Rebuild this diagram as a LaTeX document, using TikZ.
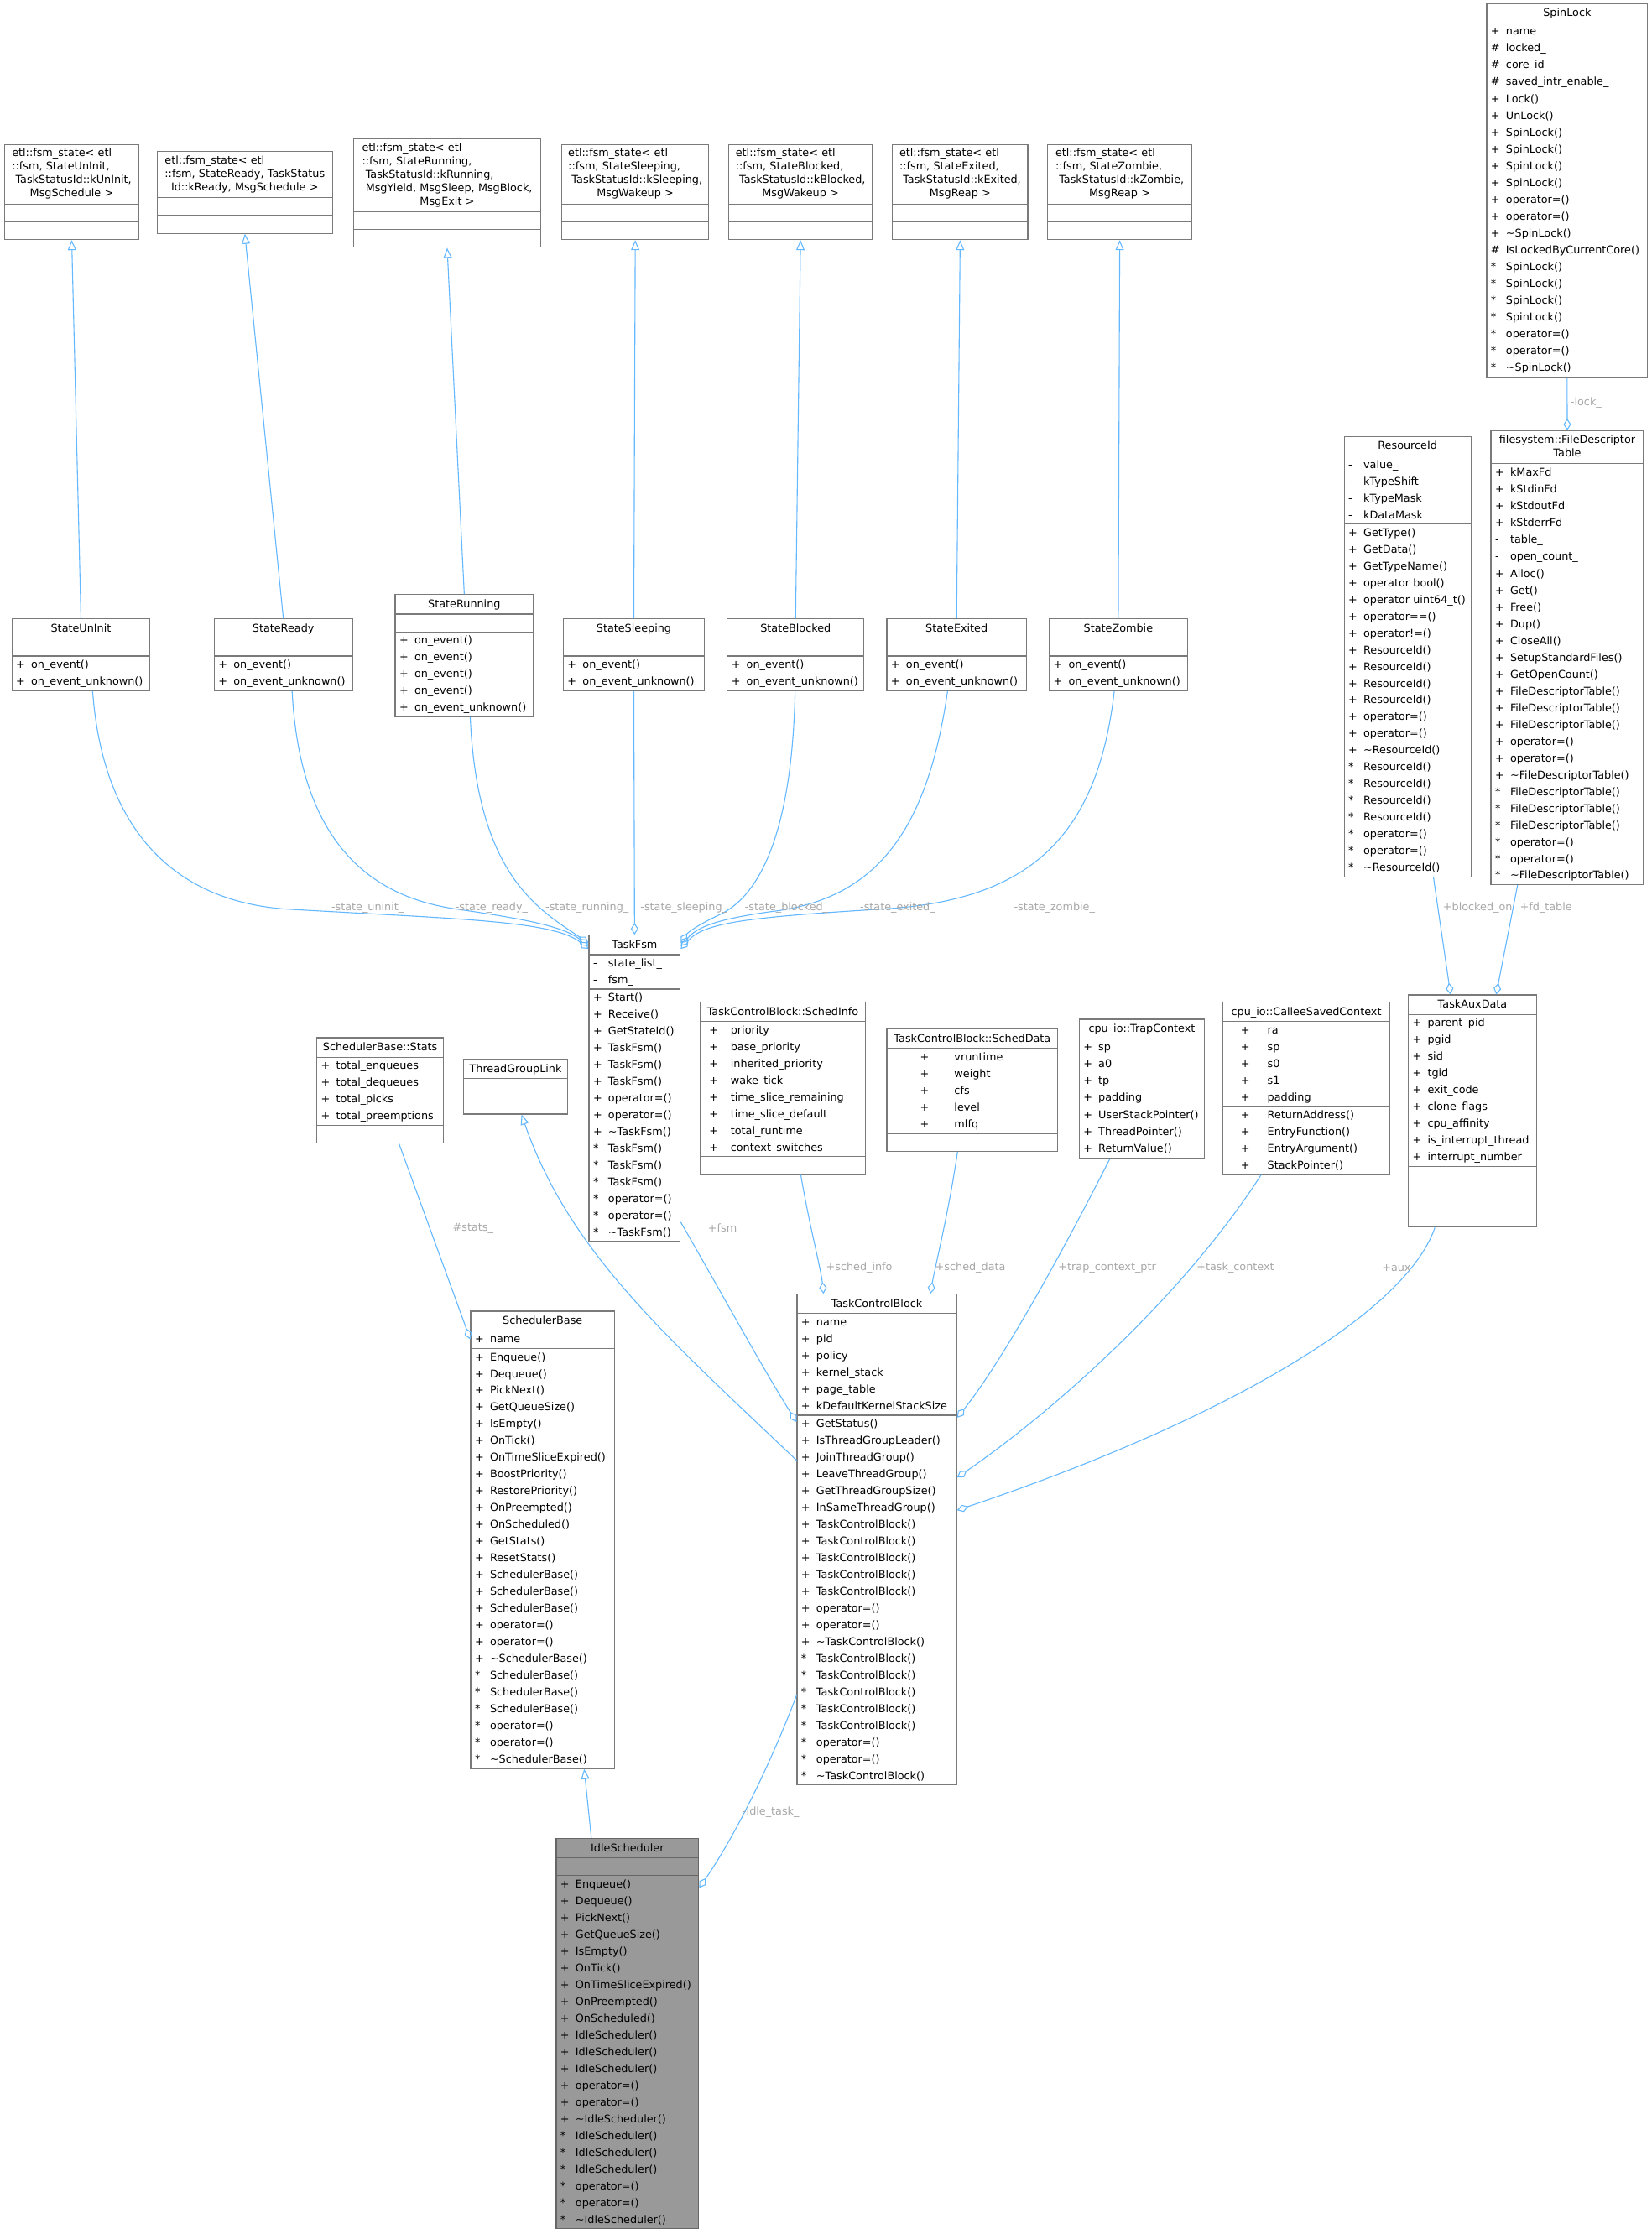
\documentclass[tikz,border=0pt]{standalone}
\usepackage{fontspec}
\setmainfont{DejaVu Sans}
\usetikzlibrary{positioning, shapes.multipart, arrows.meta, calc}

\definecolor{edgeblue}{HTML}{63B8FF}
\definecolor{boxline}{HTML}{7A7A7A}
\definecolor{labelgrey}{HTML}{A8A8A8}
\definecolor{idlefill}{HTML}{999999}
\definecolor{idleline}{HTML}{666666}

% one member row: visibility column, then the name
\newcommand\mem[3][10pt]{\mbox{\strut\makebox[#1][l]{\hspace{1pt}#2}#3}}
% class titles
\newcommand\ttl[1]{\noindent\makebox[\hsize]{\rule[-3.5pt]{0pt}{11pt}#1}}
\newcommand\ttlm[1]{\noindent\makebox[\hsize]{\fontsize{6.4}{8}\selectfont\begin{tabular}[b]{@{}l@{}}\rule{0pt}{7.1pt}#1\end{tabular}\rule[-3.9pt]{0pt}{0pt}}}
\newcommand\lastl[1]{\multicolumn{1}{@{}c@{}}{#1}}

\begin{document}
\begin{tikzpicture}[
    x=0.85pt, y=-0.85pt,
    cls/.style={
        rectangle split,
        rectangle split parts=3,
        draw=boxline,
        line width=0.6pt,
        fill=white,
        inner xsep=1.5pt,
        inner ysep=0pt,
        anchor=north west,
        align=left,
        font=\fontsize{6.4}{10}\selectfont
    },
    focus/.style={
        cls,
        fill=idlefill,
        draw=idleline
    },
    inherit/.style={
        -{Triangle[open,length=6pt,width=5pt]},
        draw=edgeblue,
        line width=0.55pt
    },
    member/.style={
        -{Diamond[open,length=7pt,width=4.5pt]},
        draw=edgeblue,
        line width=0.55pt
    },
    elabel/.style={
        font=\fontsize{6.4}{8}\selectfont,
        text=labelgrey,
        inner sep=0pt
    }
]

    \fill[white] (0,0) rectangle (1159,1568);
    \useasboundingbox (0,0) rectangle (1159,1568);

    % etl base classes
    \node[cls, text width=76.9pt] (baseUninit) at (3,101) {\ttlm{etl::fsm\_state< etl\\::fsm, StateUnInit,\\\ TaskStatusId::kUnInit,\\\lastl{MsgSchedule >}}\nodepart{two}\strut\nodepart{three}\strut};
    \node[cls, text width=101.5pt] (baseReady) at (110,106) {\ttlm{etl::fsm\_state< etl\\::fsm, StateReady, TaskStatus\\\lastl{Id::kReady, MsgSchedule >}}\nodepart{two}\strut\nodepart{three}\strut};
    \node[cls, text width=108.3pt] (baseRunning) at (248,97) {\ttlm{etl::fsm\_state< etl\\::fsm, StateRunning,\\\ TaskStatusId::kRunning,\\\ MsgYield, MsgSleep, MsgBlock,\\\lastl{MsgExit >}}\nodepart{two}\strut\nodepart{three}\strut};
    \node[cls, text width=84.5pt] (baseSleeping) at (394,101) {\ttlm{etl::fsm\_state< etl\\::fsm, StateSleeping,\\\ TaskStatusId::kSleeping,\\\lastl{MsgWakeup >}}\nodepart{two}\strut\nodepart{three}\strut};
    \node[cls, text width=82.8pt] (baseBlocked) at (511,101) {\ttlm{etl::fsm\_state< etl\\::fsm, StateBlocked,\\\ TaskStatusId::kBlocked,\\\lastl{MsgWakeup >}}\nodepart{two}\strut\nodepart{three}\strut};
    \node[cls, text width=77.7pt] (baseExited) at (626,101) {\ttlm{etl::fsm\_state< etl\\::fsm, StateExited,\\\ TaskStatusId::kExited,\\\lastl{MsgReap >}}\nodepart{two}\strut\nodepart{three}\strut};
    \node[cls, text width=82.8pt] (baseZombie) at (735,101) {\ttlm{etl::fsm\_state< etl\\::fsm, StateZombie,\\\ TaskStatusId::kZombie,\\\lastl{MsgReap >}}\nodepart{two}\strut\nodepart{three}\strut};

    % SpinLock
    \node[cls, text width=93pt] (spin) at (1043,2) {\ttl{SpinLock}
        \nodepart{two}\mem{+}{name}\\\mem{\#}{locked\_}\\\mem{\#}{core\_id\_}\\\mem{\#}{saved\_intr\_enable\_}
        \nodepart{three}\mem{+}{Lock()}\\\mem{+}{UnLock()}\\\mem{+}{SpinLock()}\\\mem{+}{SpinLock()}\\\mem{+}{SpinLock()}\\\mem{+}{SpinLock()}\\\mem{+}{operator=()}\\\mem{+}{operator=()}\\\mem{+}{\textasciitilde SpinLock()}\\\mem{\#}{IsLockedByCurrentCore()}\\\mem{*}{SpinLock()}\\\mem{*}{SpinLock()}\\\mem{*}{SpinLock()}\\\mem{*}{SpinLock()}\\\mem{*}{operator=()}\\\mem{*}{operator=()}\\\mem{*}{\textasciitilde SpinLock()}};

    % States
    \node[cls, text width=79.4pt] (uninit) at (8,434) {\ttl{StateUnInit}\nodepart{two}\strut
        \nodepart{three}\mem{+}{on\_event()}\\\mem{+}{on\_event\_unknown()}};
    \node[cls, text width=79.4pt] (ready) at (150,434) {\ttl{StateReady}\nodepart{two}\strut
        \nodepart{three}\mem{+}{on\_event()}\\\mem{+}{on\_event\_unknown()}};
    \node[cls, text width=79.4pt] (running) at (277,417) {\ttl{StateRunning}\nodepart{two}\strut
        \nodepart{three}\mem{+}{on\_event()}\\\mem{+}{on\_event()}\\\mem{+}{on\_event()}\\\mem{+}{on\_event()}\\\mem{+}{on\_event\_unknown()}};
    \node[cls, text width=81.1pt] (sleeping) at (395,434) {\ttl{StateSleeping}\nodepart{two}\strut
        \nodepart{three}\mem{+}{on\_event()}\\\mem{+}{on\_event\_unknown()}};
    \node[cls, text width=78.6pt] (blocked) at (510,434) {\ttl{StateBlocked}\nodepart{two}\strut
        \nodepart{three}\mem{+}{on\_event()}\\\mem{+}{on\_event\_unknown()}};
    \node[cls, text width=80.3pt] (exited) at (622,434) {\ttl{StateExited}\nodepart{two}\strut
        \nodepart{three}\mem{+}{on\_event()}\\\mem{+}{on\_event\_unknown()}};
    \node[cls, text width=79.4pt] (zombie) at (736,434) {\ttl{StateZombie}\nodepart{two}\strut
        \nodepart{three}\mem{+}{on\_event()}\\\mem{+}{on\_event\_unknown()}};

    % ResourceId and file table
    \node[cls, text width=72.6pt] (resid) at (943,306) {\ttl{ResourceId}
        \nodepart{two}\mem{-}{value\_}\\\mem{-}{kTypeShift}\\\mem{-}{kTypeMask}\\\mem{-}{kDataMask}
        \nodepart{three}\mem{+}{GetType()}\\\mem{+}{GetData()}\\\mem{+}{GetTypeName()}\\\mem{+}{operator bool()}\\\mem{+}{operator uint64\_t()}\\\mem{+}{operator==()}\\\mem{+}{operator!=()}\\\mem{+}{ResourceId()}\\\mem{+}{ResourceId()}\\\mem{+}{ResourceId()}\\\mem{+}{ResourceId()}\\\mem{+}{operator=()}\\\mem{+}{operator=()}\\\mem{+}{\textasciitilde ResourceId()}\\\mem{*}{ResourceId()}\\\mem{*}{ResourceId()}\\\mem{*}{ResourceId()}\\\mem{*}{ResourceId()}\\\mem{*}{operator=()}\\\mem{*}{operator=()}\\\mem{*}{\textasciitilde ResourceId()}};
    \node[cls, text width=88pt] (fdt) at (1046,302) {\ttlm{filesystem::FileDescriptor\\\lastl{Table}}
        \nodepart{two}\mem{+}{kMaxFd}\\\mem{+}{kStdinFd}\\\mem{+}{kStdoutFd}\\\mem{+}{kStderrFd}\\\mem{-}{table\_}\\\mem{-}{open\_count\_}
        \nodepart{three}\mem{+}{Alloc()}\\\mem{+}{Get()}\\\mem{+}{Free()}\\\mem{+}{Dup()}\\\mem{+}{CloseAll()}\\\mem{+}{SetupStandardFiles()}\\\mem{+}{GetOpenCount()}\\\mem{+}{FileDescriptorTable()}\\\mem{+}{FileDescriptorTable()}\\\mem{+}{FileDescriptorTable()}\\\mem{+}{operator=()}\\\mem{+}{operator=()}\\\mem{+}{\textasciitilde FileDescriptorTable()}\\\mem{*}{FileDescriptorTable()}\\\mem{*}{FileDescriptorTable()}\\\mem{*}{FileDescriptorTable()}\\\mem{*}{operator=()}\\\mem{*}{operator=()}\\\mem{*}{\textasciitilde FileDescriptorTable()}};

    % TaskFsm
    \node[cls, text width=51.4pt] (fsm) at (413,656) {\ttl{TaskFsm}
        \nodepart{two}\mem{-}{state\_list\_}\\\mem{-}{fsm\_}
        \nodepart{three}\mem{+}{Start()}\\\mem{+}{Receive()}\\\mem{+}{GetStateId()}\\\mem{+}{TaskFsm()}\\\mem{+}{TaskFsm()}\\\mem{+}{TaskFsm()}\\\mem{+}{operator=()}\\\mem{+}{operator=()}\\\mem{+}{\textasciitilde TaskFsm()}\\\mem{*}{TaskFsm()}\\\mem{*}{TaskFsm()}\\\mem{*}{TaskFsm()}\\\mem{*}{operator=()}\\\mem{*}{operator=()}\\\mem{*}{\textasciitilde TaskFsm()}};

    % Middle row
    \node[cls, text width=72.6pt] (stats) at (222,728) {\ttl{SchedulerBase::Stats}
        \nodepart{two}\mem{+}{total\_enqueues}\\\mem{+}{total\_dequeues}\\\mem{+}{total\_picks}\\\mem{+}{total\_preemptions}
        \nodepart{three}\strut};
    \node[cls, text width=59pt] (tgl) at (325,743) {\ttl{ThreadGroupLink}\nodepart{two}\strut\nodepart{three}\strut};
    \node[cls, text width=95.6pt] (sinfo) at (491,703) {\ttl{TaskControlBlock::SchedInfo}
        \nodepart{two}\mem[16.7pt]{\hspace{3pt}+}{priority}\\\mem[16.7pt]{\hspace{3pt}+}{base\_priority}\\\mem[16.7pt]{\hspace{3pt}+}{inherited\_priority}\\\mem[16.7pt]{\hspace{3pt}+}{wake\_tick}\\\mem[16.7pt]{\hspace{3pt}+}{time\_slice\_remaining}\\\mem[16.7pt]{\hspace{3pt}+}{time\_slice\_default}\\\mem[16.7pt]{\hspace{3pt}+}{total\_runtime}\\\mem[16.7pt]{\hspace{3pt}+}{context\_switches}
        \nodepart{three}\strut};
    \node[cls, text width=99pt] (sdata) at (622,722) {\ttl{TaskControlBlock::SchedData}
        \nodepart{two}\mem[38.8pt]{\hspace{17.4pt}+}{vruntime}\\\mem[38.8pt]{\hspace{17.4pt}+}{weight}\\\mem[38.8pt]{\hspace{17.4pt}+}{cfs}\\\mem[38.8pt]{\hspace{17.4pt}+}{level}\\\mem[38.8pt]{\hspace{17.4pt}+}{mlfq}
        \nodepart{three}\strut};
    \node[cls, text width=71.8pt] (trap) at (757,715) {\ttl{cpu\_io::TrapContext}
        \nodepart{two}\mem{+}{sp}\\\mem{+}{a0}\\\mem{+}{tp}\\\mem{+}{padding}
        \nodepart{three}\mem{+}{UserStackPointer()}\\\mem{+}{ThreadPointer()}\\\mem{+}{ReturnValue()}};
    \node[cls, text width=96.4pt] (callee) at (858,703) {\ttl{cpu\_io::CalleeSavedContext}
        \nodepart{two}\mem[25pt]{\hspace{8pt}+}{ra}\\\mem[25pt]{\hspace{8pt}+}{sp}\\\mem[25pt]{\hspace{8pt}+}{s0}\\\mem[25pt]{\hspace{8pt}+}{s1}\\\mem[25pt]{\hspace{8pt}+}{padding}
        \nodepart{three}\mem[25pt]{\hspace{8pt}+}{ReturnAddress()}\\\mem[25pt]{\hspace{8pt}+}{EntryFunction()}\\\mem[25pt]{\hspace{8pt}+}{EntryArgument()}\\\mem[25pt]{\hspace{8pt}+}{StackPointer()}};
    \node[cls, text width=73.5pt] (aux) at (988,698) {\ttl{TaskAuxData}
        \nodepart{two}\mem{+}{parent\_pid}\\\mem{+}{pgid}\\\mem{+}{sid}\\\mem{+}{tgid}\\\mem{+}{exit\_code}\\\mem{+}{clone\_flags}\\\mem{+}{cpu\_affinity}\\\mem{+}{is\_interrupt\_thread}\\\mem{+}{interrupt\_number}
        \nodepart{three}\rule[-3pt]{0pt}{35.7pt}};

    % Scheduler and task
    \node[cls, text width=82.8pt] (sbase) at (330,920) {\ttl{SchedulerBase}
        \nodepart{two}\mem{+}{name}
        \nodepart{three}\mem{+}{Enqueue()}\\\mem{+}{Dequeue()}\\\mem{+}{PickNext()}\\\mem{+}{GetQueueSize()}\\\mem{+}{IsEmpty()}\\\mem{+}{OnTick()}\\\mem{+}{OnTimeSliceExpired()}\\\mem{+}{BoostPriority()}\\\mem{+}{RestorePriority()}\\\mem{+}{OnPreempted()}\\\mem{+}{OnScheduled()}\\\mem{+}{GetStats()}\\\mem{+}{ResetStats()}\\\mem{+}{SchedulerBase()}\\\mem{+}{SchedulerBase()}\\\mem{+}{SchedulerBase()}\\\mem{+}{operator=()}\\\mem{+}{operator=()}\\\mem{+}{\textasciitilde SchedulerBase()}\\\mem{*}{SchedulerBase()}\\\mem{*}{SchedulerBase()}\\\mem{*}{SchedulerBase()}\\\mem{*}{operator=()}\\\mem{*}{operator=()}\\\mem{*}{\textasciitilde SchedulerBase()}};
    \node[cls, text width=92.2pt] (tcb) at (559,908) {\ttl{TaskControlBlock}
        \nodepart{two}\mem{+}{name}\\\mem{+}{pid}\\\mem{+}{policy}\\\mem{+}{kernel\_stack}\\\mem{+}{page\_table}\\\mem{+}{kDefaultKernelStackSize}
        \nodepart{three}\mem{+}{GetStatus()}\\\mem{+}{IsThreadGroupLeader()}\\\mem{+}{JoinThreadGroup()}\\\mem{+}{LeaveThreadGroup()}\\\mem{+}{GetThreadGroupSize()}\\\mem{+}{InSameThreadGroup()}\\\mem{+}{TaskControlBlock()}\\\mem{+}{TaskControlBlock()}\\\mem{+}{TaskControlBlock()}\\\mem{+}{TaskControlBlock()}\\\mem{+}{TaskControlBlock()}\\\mem{+}{operator=()}\\\mem{+}{operator=()}\\\mem{+}{\textasciitilde TaskControlBlock()}\\\mem{*}{TaskControlBlock()}\\\mem{*}{TaskControlBlock()}\\\mem{*}{TaskControlBlock()}\\\mem{*}{TaskControlBlock()}\\\mem{*}{TaskControlBlock()}\\\mem{*}{operator=()}\\\mem{*}{operator=()}\\\mem{*}{\textasciitilde TaskControlBlock()}};
    \node[focus, text width=82pt] (idle) at (390,1290) {\ttl{IdleScheduler}\nodepart{two}\strut
        \nodepart{three}\mem{+}{Enqueue()}\\\mem{+}{Dequeue()}\\\mem{+}{PickNext()}\\\mem{+}{GetQueueSize()}\\\mem{+}{IsEmpty()}\\\mem{+}{OnTick()}\\\mem{+}{OnTimeSliceExpired()}\\\mem{+}{OnPreempted()}\\\mem{+}{OnScheduled()}\\\mem{+}{IdleScheduler()}\\\mem{+}{IdleScheduler()}\\\mem{+}{IdleScheduler()}\\\mem{+}{operator=()}\\\mem{+}{operator=()}\\\mem{+}{\textasciitilde IdleScheduler()}\\\mem{*}{IdleScheduler()}\\\mem{*}{IdleScheduler()}\\\mem{*}{IdleScheduler()}\\\mem{*}{operator=()}\\\mem{*}{operator=()}\\\mem{*}{\textasciitilde IdleScheduler()}};

    % Inheritance
    \draw[inherit] (uninit.north) -- (baseUninit.south);
    \draw[inherit] (ready.north) -- (baseReady.south);
    \draw[inherit] (running.north) -- (baseRunning.south);
    \draw[inherit] (sleeping.north) -- (baseSleeping.south);
    \draw[inherit] (blocked.north) -- (baseBlocked.south);
    \draw[inherit] (exited.north) -- (baseExited.south);
    \draw[inherit] (zombie.north) -- (baseZombie.south);
    \draw[inherit] ($(idle.north west)+(25,0)$) -- ($(sbase.south west)+(80,0)$);
    \draw[inherit] ($(tcb.north west)+(0,117)$) .. controls (470,940) and (400,880) .. ($(tgl.south west)+(41,0)$);

    % State members of TaskFsm
    \draw[member] ($(uninit.south west)+(57,0)$) .. controls (72,580) and (120,632) .. (200,638) .. controls (320,645) and (388,646) .. ($(fsm.north west)+(0,10)$);
    \draw[member] ($(ready.south west)+(55,0)$) .. controls (210,580) and (250,628) .. (320,638) .. controls (368,645) and (395,650) .. ($(fsm.north west)+(0,8)$);
    \draw[member] ($(running.south west)+(53,0)$) .. controls (335,615) and (378,638) .. ($(fsm.north west)+(0,6)$);
    \draw[member] (sleeping.south) -- (fsm.north);
    \draw[member] ($(blocked.south west)+(48,0)$) .. controls (556,580) and (535,628) .. (505,642) .. controls (492,648) and (483,654) .. ($(fsm.north east)+(0,6)$);
    \draw[member] ($(exited.south west)+(43,0)$) .. controls (650,590) and (610,632) .. (540,640) .. controls (505,645) and (490,650) .. ($(fsm.north east)+(0,8)$);
    \draw[member] ($(zombie.south west)+(46,0)$) .. controls (770,590) and (720,632) .. (620,638) .. controls (520,644) and (494,648) .. ($(fsm.north east)+(0,10)$);

    % Other members
    \draw[member] (spin.south) -- (fdt.north);
    \draw[member] ($(resid.south west)+(63,0)$) -- ($(aux.north west)+(30,0)$);
    \draw[member] ($(fdt.south west)+(19,0)$) -- ($(aux.north west)+(62,0)$);
    \draw[member] ($(stats.south west)+(58,0)$) -- ($(sbase.north west)+(0,20)$);
    \draw[member] ($(fsm.south east)+(0,-14)$) .. controls (505,905) and (535,960) .. ($(tcb.north west)+(0,90)$);
    \draw[member] ($(sinfo.south west)+(71,0)$) .. controls (568,860) and (576,890) .. ($(tcb.north west)+(19,0)$);
    \draw[member] ($(sdata.south west)+(50,0)$) .. controls (666,850) and (656,890) .. ($(tcb.north west)+(94,0)$);
    \draw[member] ($(trap.south west)+(22,0)$) .. controls (740,890) and (700,960) .. ($(tcb.north east)+(0,87)$);
    \draw[member] ($(callee.south west)+(27,0)$) .. controls (830,910) and (740,990) .. ($(tcb.north east)+(0,129)$);
    \draw[member] ($(aux.south west)+(19,0)$) .. controls (985,925) and (850,1000) .. ($(tcb.north east)+(0,152)$);
    \draw[member] ($(tcb.north west)+(0,282)$) .. controls (540,1240) and (515,1290) .. ($(idle.north east)+(0,35)$);

    % Edge labels
    \node[elabel] (lUninit) at (258,637) {-state\_uninit\_};
    \node[elabel] (lReady) at (345,637) {-state\_ready\_};
    \node[elabel] (lRunning) at (412,637) {-state\_running\_};
    \node[elabel] (lSleeping) at (480,637) {-state\_sleeping\_};
    \node[elabel] (lBlocked) at (552,637) {-state\_blocked\_};
    \node[elabel] (lExited) at (630,637) {-state\_exited\_};
    \node[elabel] (lZombie) at (740,637) {-state\_zombie\_};
    \node[elabel, anchor=west] (lLock) at (1102,283) {-lock\_};
    \node[elabel] (lBlockedOn) at (1037,637) {+blocked\_on};
    \node[elabel] (lFdTable) at (1085,637) {+fd\_table};
    \node[elabel] (lStats) at (332,862) {\#stats\_};
    \node[elabel] (lFsm) at (507,862) {+fsm};
    \node[elabel] (lSchedInfo) at (603,890) {+sched\_info};
    \node[elabel] (lSchedData) at (681,890) {+sched\_data};
    \node[elabel] (lTrap) at (777,890) {+trap\_context\_ptr};
    \node[elabel] (lTask) at (867,890) {+task\_context};
    \node[elabel] (lAux) at (980,890) {+aux};
    \node[elabel] (lIdle) at (541,1272) {-idle\_task\_};

\end{tikzpicture}
\end{document}
